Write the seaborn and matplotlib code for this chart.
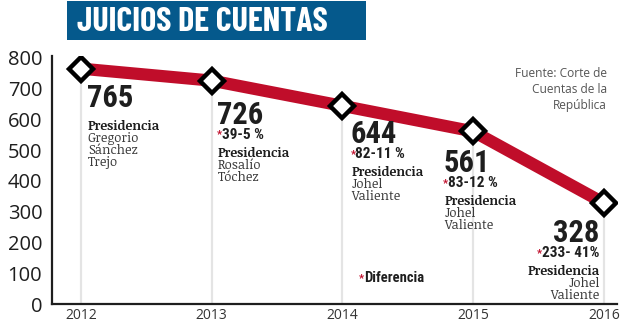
import matplotlib
matplotlib.use("Agg")
import matplotlib.pyplot as plt
from matplotlib import font_manager
from matplotlib.patches import Rectangle
import seaborn as sns
import pandas as pd

# ---- data -------------------------------------------------------------
years = [2012, 2013, 2014, 2015, 2016]
juicios = [765, 726, 644, 561, 328]
diferencia = ["", "39-5 %", "82-11 %", "83-12 %", "233- 41%"]
presidentes = [
    ["Gregorio", "Sánchez", "Trejo"],
    ["Rosalío", "Tóchez"],
    ["Johel", "Valiente"],
    ["Johel", "Valiente"],
    ["Johel", "Valiente"],
]
y_ticks = [0, 100, 200, 300, 400, 500, 600, 700, 800]

df = pd.DataFrame({"year": years, "juicios": juicios})

# ---- fonts ------------------------------------------------------------
weights = {}
for f in font_manager.fontManager.ttflist:
    w = f.weight if isinstance(f.weight, int) else 400
    weights.setdefault(f.name, set()).add(w)


def pick(*cands, bold=False):
    for c in cands:
        if c in weights and (not bold or max(weights[c]) >= 600):
            return c
    return "DejaVu Sans"


NARROW = pick("Roboto Condensed", "Fira Sans Condensed", "Archivo Narrow", bold=True)
TITLE = pick("Barlow Condensed", "Saira Condensed", "Roboto Condensed", bold=True)
SANS = pick("Open Sans", "Noto Sans")
SERIF = pick("Merriweather", "Noticia Text", "Bitter", "Zilla Slab", "DejaVu Serif", bold=True)
SERIF_LIGHT = "light" if min(weights.get(SERIF, {400})) <= 300 else "normal"

RED = "#c00d2a"
BLUE = "#05598c"
INK = "#1e1e1e"

sns.set_theme(style="white")
plt.rcParams["font.family"] = [SANS, "DejaVu Sans"]

fig = plt.figure(figsize=(6.27, 3.26), dpi=100)
ax = fig.add_axes([52 / 627, 22 / 326, 565 / 627, 248 / 326])

# light vertical guides from the baseline up to each point
ax.vlines(df["year"], 0, df["juicios"], color="#e4e4e4", lw=1.6, zorder=1)

sns.lineplot(data=df, x="year", y="juicios", ax=ax, color=RED, lw=8.8,
             marker="D", markersize=12, markerfacecolor="white",
             markeredgecolor="black", markeredgewidth=3.2, zorder=3)

ax.set_xlim(2011.78, 2016.1)
ax.set_ylim(0, 806)
ax.set_xlabel("")
ax.set_ylabel("")
ax.set_xticks(years)
ax.set_xticklabels([str(y) for y in years])
ax.set_yticks(y_ticks)
ax.tick_params(axis="y", direction="in", length=11, width=1.5, color=INK,
               pad=7, labelsize=14.5, labelcolor=INK)
ax.tick_params(axis="x", length=0, pad=3, labelsize=10, labelcolor="#333333")
for s in ("top", "right"):
    ax.spines[s].set_visible(False)
for s in ("left", "bottom"):
    ax.spines[s].set_color(INK)
    ax.spines[s].set_linewidth(1.6)

# ---- value labels under each point ------------------------------------
# (dx, baseline offset of the number below the point, horizontal alignment)
layout = [(6, 38, "left"), (5, 43, "left"), (8, 37, "left"),
          (-30, 41, "left"), (-5, 39, "right")]

fig.canvas.draw()
for i, (yr, val) in enumerate(zip(years, juicios)):
    dx, dy, ha = layout[i]
    y0 = -dy
    ax.annotate(str(val), (yr, val), xytext=(dx, y0), textcoords="offset pixels",
                ha=ha, va="baseline", fontsize=22, fontweight="bold",
                family=NARROW, color=INK, zorder=5)
    y = y0
    if diferencia[i]:
        y -= 15
        if ha == "left":
            ax.annotate("*", (yr, val), xytext=(dx, y + 1), textcoords="offset pixels",
                        ha="left", va="baseline", fontsize=8, fontweight="bold",
                        family=NARROW, color=RED)
            ax.annotate(diferencia[i], (yr, val), xytext=(dx + 5, y),
                        textcoords="offset pixels", ha="left", va="baseline",
                        fontsize=11, fontweight="bold", family=NARROW, color=INK)
        else:
            t = ax.annotate(diferencia[i], (yr, val), xytext=(dx, y),
                            textcoords="offset pixels", ha="right", va="baseline",
                            fontsize=11, fontweight="bold", family=NARROW, color=INK)
            fig.canvas.draw()
            w = t.get_window_extent().width
            ax.annotate("*", (yr, val), xytext=(dx - w, y + 1),
                        textcoords="offset pixels", ha="right", va="baseline",
                        fontsize=8, fontweight="bold", family=NARROW, color=RED)
        y -= 18
    else:
        y -= 23
    ax.annotate("Presidencia", (yr, val), xytext=(dx + 1, y), textcoords="offset pixels",
                ha=ha, va="baseline", fontsize=9.4, fontweight="bold",
                family=SERIF, color=INK)
    for name in presidentes[i]:
        y -= 12
        ax.annotate(name, (yr, val), xytext=(dx + 1, y), textcoords="offset pixels",
                    ha=ha, va="baseline", fontsize=9.4, fontweight=SERIF_LIGHT,
                    family=SERIF, color="#3a3a3a")

# footnote and source
ax.text(0.543, 0.093, "*", transform=ax.transAxes, ha="left", va="baseline",
        fontsize=8, fontweight="bold", family=NARROW, color=RED)
ax.text(0.553, 0.089, "Diferencia", transform=ax.transAxes, ha="left", va="baseline",
        fontsize=10.5, fontweight="bold", family=NARROW, color=INK)
ax.text(0.982, 0.955, "Fuente: Corte de\nCuentas de la\nRepública",
        transform=ax.transAxes, ha="right", va="top", fontsize=8.6,
        linespacing=1.3, color="#555555", family=SANS)

# ---- title banner ------------------------------------------------------
fig.patches.append(Rectangle((67 / 627, 286 / 326), 299 / 627, 39 / 326,
                             transform=fig.transFigure, facecolor=BLUE,
                             edgecolor="none", zorder=0))
fig.text(77 / 627, 304 / 326, "JUICIOS DE CUENTAS", ha="left", va="center",
         fontsize=24.5, fontweight="bold", family=TITLE, color="white")

fig.savefig("out.png", dpi=100)
